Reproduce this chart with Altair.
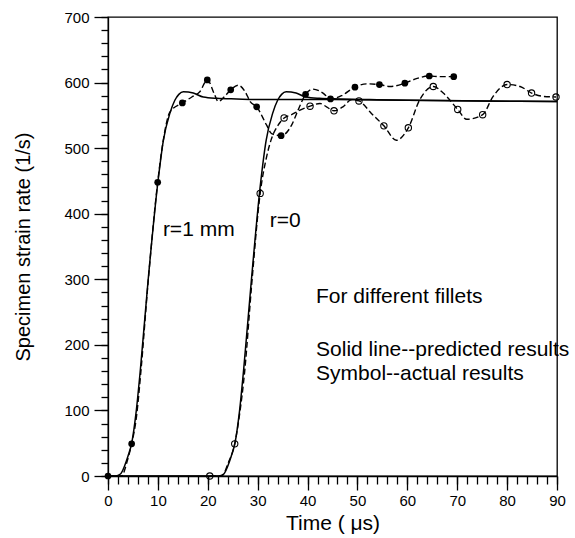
import altair as alt
import pandas as pd

FONT = "Liberation Sans"

# ---- Predicted results (solid lines) ----
pred_r1_t = [0, 1.5, 2.5, 3.3, 4.0, 4.8, 5.6, 6.5, 8.0, 10.0, 11.1, 12.4, 13.4, 14.2, 15.1, 17.1, 19.1, 21.8, 25.8, 31.8, 45, 60, 75, 90]
pred_r1_v = [0, 0, 3, 15, 30, 52, 95, 163, 295, 448, 512, 553, 573, 582, 586, 584, 578, 576, 575, 574, 574, 573, 572, 571]

pred_r0_t = [0, 22.2, 23.2, 24.0, 24.7, 25.5, 26.3, 27.2, 28.7, 30.6, 31.7, 33.0, 34.0, 34.8, 35.7, 37.7, 39.7, 42.4, 46.4, 52.4, 60, 75, 90]
pred_r0_v = [0, 0, 3, 15, 30, 52, 95, 163, 295, 448, 512, 553, 573, 582, 586, 584, 578, 576, 575, 574, 573, 572, 571]

# ---- Actual results (dashed lines) ----
act_r1_t = [0, 2.7, 3.9, 4.74, 5.7, 6.6, 8.0, 9.96, 11.0, 12.4, 14.9, 16.8, 18.4, 19.9, 21.4, 22.1, 23.4, 24.6, 26.1, 27.5, 28.5, 29.8, 31.8, 32.8, 34.7, 36.8, 38.1, 39.6, 41.1, 43.1, 44.6, 46.8, 49.5, 51.8, 54.4, 56.5, 59.5, 61.8, 64.4, 66.5, 69.3]
act_r1_v = [0, 0, 24, 49, 90, 160, 292, 448, 508, 555, 569, 578, 586, 604, 581, 571, 579, 589, 596, 586, 571, 563, 535, 522, 519, 535, 558, 582, 590, 584, 575, 580, 593, 598, 597, 594, 599, 606, 610, 609, 609]

act_r0_t = [20.4, 22.8, 24.1, 25.4, 26.3, 27.4, 28.8, 30.5, 31.8, 32.8, 34.1, 35.3, 36.8, 38.5, 40.5, 42.5, 43.8, 45.3, 47.1, 48.8, 50.3, 52.8, 55.3, 57.8, 60.2, 62.5, 65.2, 67.2, 70.1, 71.9, 75.1, 77.2, 80.0, 82.6, 84.9, 87.2, 89.8]
act_r0_v = [0, 0, 20, 49, 90, 160, 292, 431, 487, 515, 535, 546, 551, 558, 564, 568, 563, 557, 563, 574, 572, 553, 534, 512, 531, 574, 594, 584, 559, 544, 551, 579, 597, 594, 584, 579, 578]

# ---- Symbols ----
sym_r1_t = [0, 4.74, 9.96, 14.9, 19.9, 24.6, 29.8, 34.7, 39.6, 44.6, 49.5, 54.4, 59.5, 64.4, 69.3]
sym_r1_v = [0, 49, 448, 569, 604, 589, 563, 519, 582, 575, 593, 597, 599, 610, 609]

sym_r0_t = [20.4, 25.4, 30.5, 35.3, 40.5, 45.3, 50.3, 55.3, 60.2, 65.2, 70.1, 75.1, 80.0, 84.9, 89.8]
sym_r0_v = [0, 49, 431, 546, 564, 557, 572, 534, 531, 594, 559, 551, 597, 584, 578]

# ---- Annotations ----
ann_text = ["r=1 mm", "r=0", "For different fillets", "Solid line--predicted results", "Symbol--actual results"]
ann_t = [11.0, 32.4, 41.7, 41.7, 41.7]
ann_v = [375, 389, 273, 192, 155]

# ---- Axis ticks ----
x_major = list(range(0, 91, 10))
x_minor = list(range(0, 91, 2))
y_major = list(range(0, 701, 100))
y_minor = list(range(0, 701, 20))

pred = pd.concat([
    pd.DataFrame({"t": pred_r1_t, "v": pred_r1_v, "s": "r1"}),
    pd.DataFrame({"t": pred_r0_t, "v": pred_r0_v, "s": "r0"}),
])
act = pd.concat([
    pd.DataFrame({"t": act_r1_t, "v": act_r1_v, "s": "r1"}),
    pd.DataFrame({"t": act_r0_t, "v": act_r0_v, "s": "r0"}),
])
sym1 = pd.DataFrame({"t": sym_r1_t, "v": sym_r1_v})
sym0 = pd.DataFrame({"t": sym_r0_t, "v": sym_r0_v})
ann = pd.DataFrame({"t": ann_t, "v": ann_v, "label": ann_text})

xs = alt.Scale(domain=[0, 90], nice=False, zero=False)
ys = alt.Scale(domain=[0, 700], nice=False, zero=False)

major_x = alt.Axis(values=x_major, tickSize=14, labelPadding=3, title="Time ( μs)",
                   titlePadding=4, orient="bottom", grid=False, labelFontSize=15,
                   titleFontSize=21, labelFlush=False, tickColor="black", tickWidth=1.3)
major_y = alt.Axis(values=y_major, tickSize=14, labelPadding=5, title="Specimen strain rate (1/s)",
                   titlePadding=30, orient="left", grid=False, labelFontSize=15,
                   titleFontSize=20, tickColor="black", tickWidth=1.3)
minor_x = alt.Axis(values=x_minor, tickSize=8, labels=False, title=None, domain=False,
                   orient="bottom", grid=False, tickColor="black", tickWidth=1.3)
minor_y = alt.Axis(values=y_minor, tickSize=7, labels=False, title=None, domain=False,
                   orient="left", grid=False, tickColor="black", tickWidth=1.3)

solid = alt.Chart(pred).mark_line(color="black", strokeWidth=1.5, interpolate="monotone").encode(
    x=alt.X("t:Q", scale=xs, axis=major_x),
    y=alt.Y("v:Q", scale=ys, axis=major_y),
    detail="s:N",
)

dashed = alt.Chart(act).mark_line(color="black", strokeWidth=1.4, strokeDash=[6, 3],
                                  interpolate="monotone").encode(
    x=alt.X("t:Q", scale=xs, axis=minor_x),
    y=alt.Y("v:Q", scale=ys, axis=minor_y),
    detail="s:N",
)

filled = alt.Chart(sym1).mark_point(shape="circle", filled=True, color="black", size=45, opacity=1).encode(
    x=alt.X("t:Q", scale=xs, axis=None),
    y=alt.Y("v:Q", scale=ys, axis=None),
)

hollow = alt.Chart(sym0).mark_point(shape="circle", filled=False, color="black", size=40,
                                    strokeWidth=1.1, opacity=1).encode(
    x=alt.X("t:Q", scale=xs, axis=None),
    y=alt.Y("v:Q", scale=ys, axis=None),
)

texts = alt.Chart(ann).mark_text(align="left", baseline="middle", fontSize=21, font=FONT,
                                 color="black").encode(
    x=alt.X("t:Q", scale=xs, axis=None),
    y=alt.Y("v:Q", scale=ys, axis=None),
    text="label:N",
)

chart = alt.layer(solid, dashed, filled, hollow, texts).resolve_axis(
    x="independent", y="independent"
).properties(
    width=449, height=459,
    autosize=alt.AutoSizeParams(type="none"),
    padding={"left": 108, "top": 17, "right": 18, "bottom": 62},
    background="white",
).configure_view(
    stroke="black", strokeWidth=1.3
).configure_axis(
    labelFont=FONT, titleFont=FONT, labelColor="black", titleColor="black",
    domainColor="black", domainWidth=1.3,
    titleFontWeight="normal", labelFontWeight="normal",
)

chart.save("out.html", embed_options={"renderer": "svg", "actions": False})
